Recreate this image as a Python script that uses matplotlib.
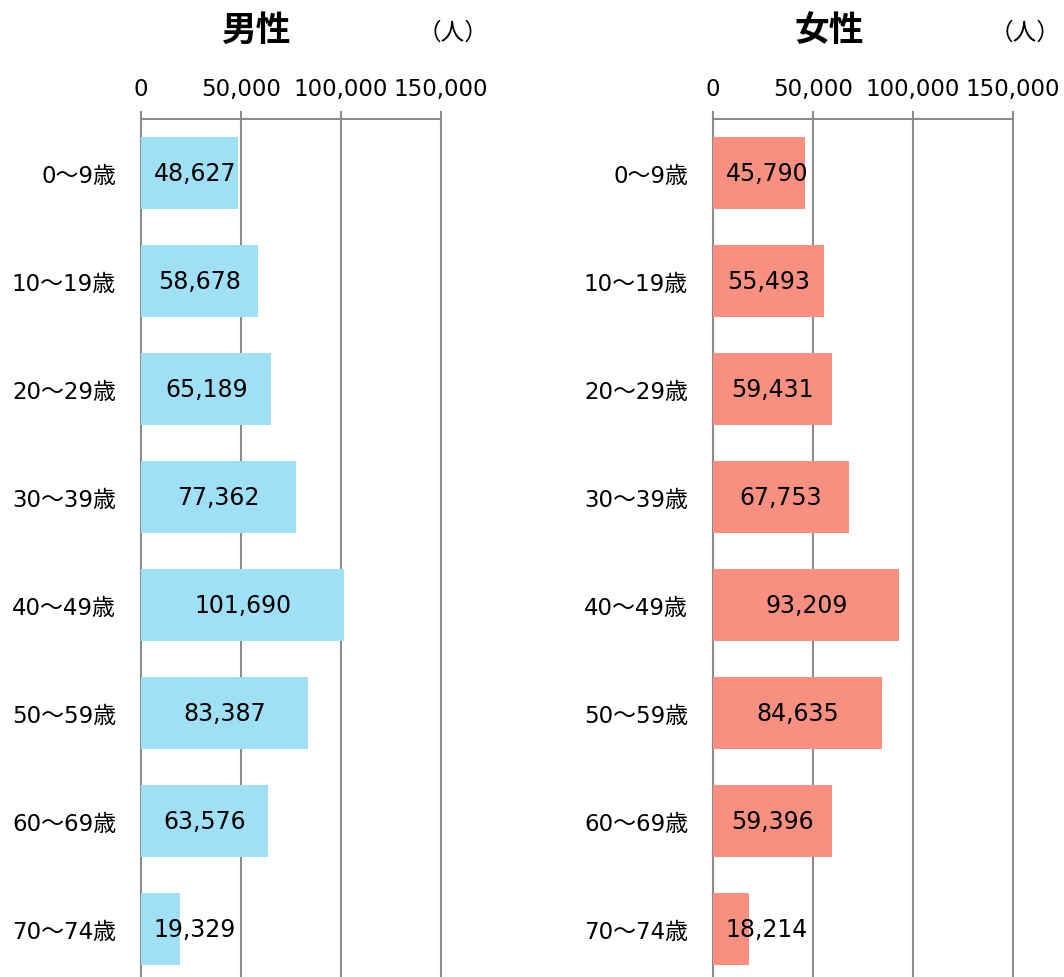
import matplotlib
matplotlib.use("Agg")
import matplotlib.pyplot as plt
from matplotlib.ticker import FuncFormatter

plt.rcParams['font.family'] = ['DejaVu Sans', 'Noto Sans CJK JP']

ages = ["0～9歳", "10～19歳", "20～29歳", "30～39歳",
        "40～49歳", "50～59歳", "60～69歳", "70～74歳"]
male = [48627, 58678, 65189, 77362, 101690, 83387, 63576, 19329]
female = [45790, 55493, 59431, 67753, 93209, 84635, 59396, 18214]
ticks = [0, 50000, 100000, 150000]

W, H = 1064, 978
fig = plt.figure(figsize=(W / 100, H / 100), dpi=100)

grid_c = "#8c8c8c"
xmax = 150800  # a bit of room so the last gridline is not clipped

def panel(left_px, values, color, title):
    ax = fig.add_axes([left_px / W, 1 - 984 / H, 300 * xmax / 150000 / W, 864 / H])
    y = list(range(len(ages)))
    ax.barh(y, values, height=0.667, color=color, zorder=3)
    ax.set_xlim(0, xmax)
    ax.set_ylim(len(ages) - 0.5, -0.5)
    ax.set_xticks(ticks)
    ax.xaxis.set_major_formatter(FuncFormatter(lambda v, p: f"{int(v):,}"))
    ax.xaxis.tick_top()
    ax.tick_params(axis='x', direction='out', length=6, width=1.5,
                   color=grid_c, labelsize=16.5, pad=8)
    ax.set_yticks(y)
    ax.set_yticklabels(ages)
    ax.tick_params(axis='y', length=0, labelsize=16.5, pad=18)
    for s in ['right', 'bottom']:
        ax.spines[s].set_visible(False)
    for s in ['top', 'left']:
        ax.spines[s].set_color(grid_c)
        ax.spines[s].set_linewidth(1.5)
    ax.spines['top'].set_bounds(0, 150000)
    ax.grid(axis='x', color=grid_c, linewidth=1.5, zorder=0)
    ax.set_axisbelow(True)
    for i, v in enumerate(values):
        ax.text(max(v / 2, 27000), i, f"{v:,}", ha='center', va='center',
                fontsize=17, zorder=4)
    ax.text(0.385, 1.104, title, transform=ax.transAxes, ha='center',
            va='center', fontsize=25, fontweight='bold',
            family=['Noto Sans CJK JP'])
    ax.text(1.035, 1.101, "（人）", transform=ax.transAxes, ha='center',
            va='center', fontsize=17, family=['Noto Sans CJK JP'])
    return ax

panel(141, male, "#9fe0f7", "男性")
panel(713, female, "#f79080", "女性")

fig.savefig("out.png", dpi=100)
